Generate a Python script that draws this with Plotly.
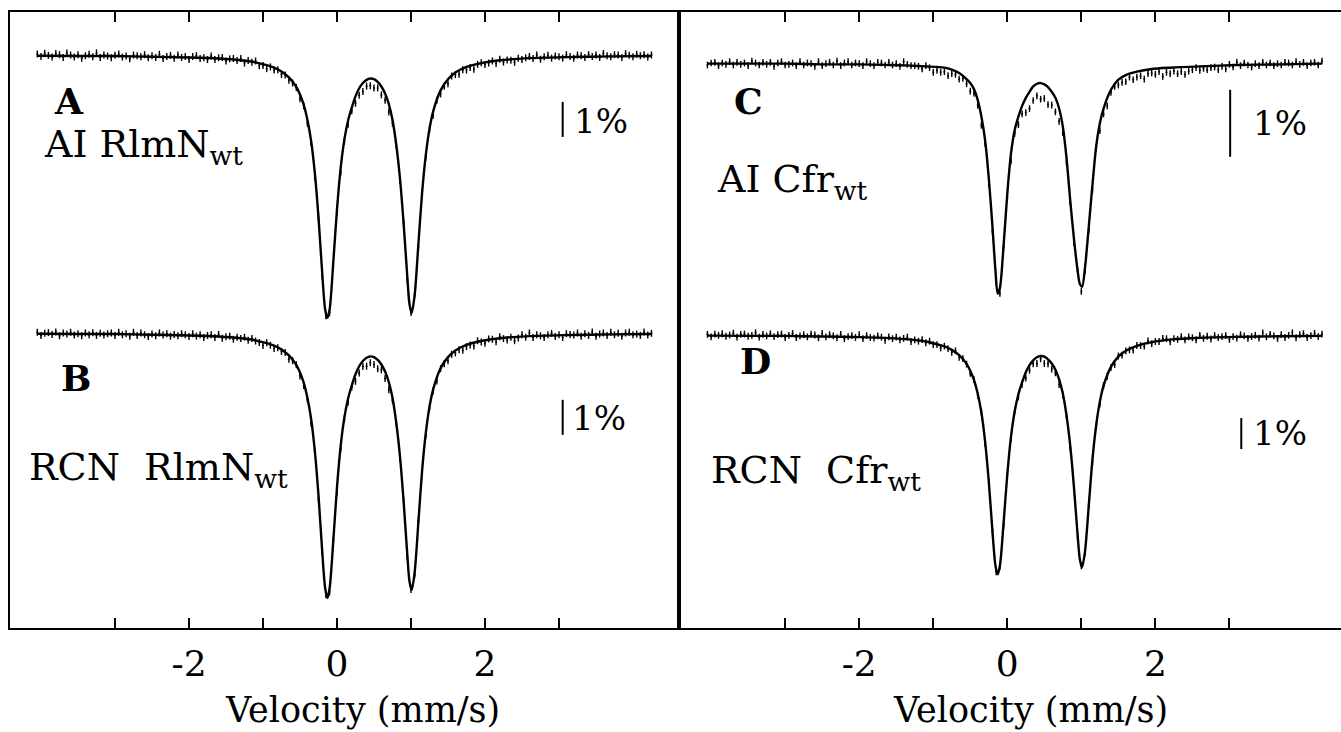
import plotly.graph_objects as go

# ---------------- data ----------------
velocity = [
    -4.05, -4.00, -3.95, -3.90, -3.85, -3.80, -3.75, -3.70, -3.65, -3.60,
    -3.55, -3.50, -3.45, -3.40, -3.35, -3.30, -3.25, -3.20, -3.15, -3.10,
    -3.05, -3.00, -2.95, -2.90, -2.85, -2.80, -2.75, -2.70, -2.65, -2.60,
    -2.55, -2.50, -2.45, -2.40, -2.35, -2.30, -2.25, -2.20, -2.15, -2.10,
    -2.05, -2.00, -1.95, -1.90, -1.85, -1.80, -1.75, -1.70, -1.65, -1.60,
    -1.55, -1.50, -1.45, -1.40, -1.35, -1.30, -1.25, -1.20, -1.15, -1.10,
    -1.05, -1.00, -0.95, -0.90, -0.85, -0.80, -0.75, -0.70, -0.65, -0.60,
    -0.55, -0.50, -0.45, -0.40, -0.35, -0.30, -0.25, -0.20, -0.15, -0.10,
    -0.05, 0.00, 0.05, 0.10, 0.15, 0.20, 0.25, 0.30, 0.35, 0.40,
    0.45, 0.50, 0.55, 0.60, 0.65, 0.70, 0.75, 0.80, 0.85, 0.90,
    0.95, 1.00, 1.05, 1.10, 1.15, 1.20, 1.25, 1.30, 1.35, 1.40,
    1.45, 1.50, 1.55, 1.60, 1.65, 1.70, 1.75, 1.80, 1.85, 1.90,
    1.95, 2.00, 2.05, 2.10, 2.15, 2.20, 2.25, 2.30, 2.35, 2.40,
    2.45, 2.50, 2.55, 2.60, 2.65, 2.70, 2.75, 2.80, 2.85, 2.90,
    2.95, 3.00, 3.05, 3.10, 3.15, 3.20, 3.25, 3.30, 3.35, 3.40,
    3.45, 3.50, 3.55, 3.60, 3.65, 3.70, 3.75, 3.80, 3.85, 3.90,
    3.95, 4.00, 4.05, 4.10, 4.15, 4.20, 4.25,
]

# relative transmission (%) of the measured spectra
data_A = [
    100.03, 99.96, 100.05, 99.99, 99.94, 100.04, 100.01, 99.93, 100.06, 100.00,
    99.94, 100.01, 99.91, 99.98, 100.02, 99.95, 100.06, 99.93, 100.00, 99.97,
    99.92, 99.99, 100.03, 99.94, 99.97, 99.89, 100.00, 99.98, 99.95, 100.01,
    99.92, 99.98, 99.93, 100.02, 99.90, 99.96, 99.99, 99.91, 100.00, 99.93,
    99.96, 99.87, 99.96, 99.98, 99.90, 99.92, 99.87, 99.97, 99.87, 99.92,
    99.93, 99.83, 99.89, 99.90, 99.84, 99.90, 99.77, 99.84, 99.79, 99.83,
    99.69, 99.70, 99.61, 99.66, 99.57, 99.58, 99.44, 99.43, 99.28, 99.20,
    99.07, 98.75, 98.55, 98.05, 97.49, 96.51, 95.34, 93.69, 92.55, 92.64,
    93.95, 95.51, 96.65, 97.54, 98.02, 98.41, 98.62, 98.85, 98.96, 99.11,
    99.12, 99.06, 99.06, 98.86, 98.71, 98.37, 98.05, 97.44, 96.42, 95.21,
    93.58, 92.64, 93.15, 94.50, 96.03, 97.08, 97.86, 98.28, 98.71, 98.89,
    99.11, 99.18, 99.40, 99.44, 99.45, 99.58, 99.57, 99.64, 99.59, 99.73,
    99.78, 99.73, 99.77, 99.83, 99.76, 99.88, 99.80, 99.86, 99.85, 99.79,
    99.91, 99.87, 99.92, 99.96, 99.90, 100.00, 99.88, 99.95, 99.99, 99.91,
    99.97, 99.95, 99.91, 100.01, 99.96, 99.91, 100.00, 99.98, 99.93, 100.01,
    99.96, 100.00, 99.93, 100.04, 99.98, 99.95, 100.01, 100.00, 99.93, 100.04,
    99.99, 99.95, 100.02, 99.98, 100.01, 99.94, 100.00,
]
data_B = [
    100.02, 99.93, 99.99, 100.01, 99.96, 100.03, 99.92, 100.00, 99.97, 100.02,
    99.94, 99.98, 99.92, 100.00, 99.95, 100.01, 99.93, 99.99, 99.94, 99.98,
    100.00, 99.93, 100.02, 99.95, 99.98, 99.91, 100.02, 99.93, 100.00, 99.95,
    99.90, 99.97, 99.92, 100.00, 99.94, 99.98, 99.91, 99.96, 99.92, 99.98,
    99.95, 99.90, 99.98, 99.91, 99.95, 99.87, 99.93, 99.95, 99.87, 99.96,
    99.85, 99.89, 99.91, 99.82, 99.88, 99.84, 99.88, 99.79, 99.84, 99.77,
    99.73, 99.64, 99.72, 99.65, 99.56, 99.58, 99.47, 99.44, 99.25, 99.21,
    99.09, 98.77, 98.50, 98.11, 97.43, 96.63, 95.26, 93.75, 92.52, 92.60,
    94.07, 95.46, 96.70, 97.54, 98.02, 98.46, 98.62, 98.86, 99.04, 99.05,
    99.15, 99.10, 98.98, 98.95, 98.70, 98.38, 98.08, 97.43, 96.43, 95.21,
    93.62, 92.67, 93.09, 94.63, 96.03, 97.08, 97.86, 98.34, 98.63, 98.98,
    99.12, 99.21, 99.39, 99.43, 99.52, 99.51, 99.61, 99.66, 99.63, 99.78,
    99.74, 99.71, 99.83, 99.82, 99.75, 99.89, 99.84, 99.80, 99.88, 99.78,
    99.86, 99.95, 99.88, 100.00, 99.87, 99.95, 99.92, 99.87, 99.95, 99.99,
    99.90, 99.95, 99.87, 99.98, 99.96, 99.94, 100.00, 99.91, 99.98, 99.93,
    100.03, 99.91, 99.97, 100.00, 99.93, 100.02, 99.95, 99.99, 99.91, 100.00,
    100.02, 99.95, 99.97, 99.93, 100.03, 99.94, 99.99,
]
data_C = [
    99.97, 100.00, 100.01, 99.96, 100.00, 99.98, 100.02, 99.97, 100.01, 99.98,
    100.00, 99.96, 100.03, 100.00, 99.97, 100.01, 99.98, 100.01, 99.95, 100.00,
    100.02, 99.97, 99.98, 100.00, 99.96, 100.02, 99.97, 100.00, 99.99, 99.95,
    100.02, 99.96, 99.99, 100.01, 99.97, 100.03, 99.96, 100.00, 100.02, 99.97,
    100.00, 99.99, 99.96, 100.02, 99.99, 99.96, 100.01, 100.00, 99.97, 100.01,
    99.97, 99.99, 99.95, 100.02, 99.98, 99.96, 99.96, 99.95, 99.91, 99.96,
    99.93, 99.86, 99.89, 99.86, 99.87, 99.81, 99.84, 99.83, 99.76, 99.77,
    99.69, 99.58, 99.55, 99.37, 99.07, 98.80, 98.19, 97.49, 96.73, 96.56,
    97.25, 97.98, 98.54, 98.95, 99.08, 99.24, 99.26, 99.32, 99.44, 99.51,
    99.46, 99.47, 99.38, 99.37, 99.27, 99.13, 98.96, 98.51, 97.92, 97.32,
    96.89, 96.59, 96.90, 97.51, 98.10, 98.73, 98.99, 99.24, 99.36, 99.56,
    99.65, 99.67, 99.71, 99.72, 99.79, 99.75, 99.79, 99.81, 99.76, 99.84,
    99.85, 99.83, 99.87, 99.80, 99.86, 99.84, 99.88, 99.84, 99.87, 99.83,
    99.88, 99.90, 99.93, 99.89, 99.92, 99.90, 99.93, 99.94, 99.90, 99.95,
    99.91, 99.98, 99.94, 100.01, 99.96, 100.00, 99.97, 99.94, 99.99, 99.96,
    100.01, 99.97, 100.00, 99.96, 99.99, 99.97, 100.01, 100.00, 99.97, 100.02,
    99.98, 100.01, 99.96, 100.00, 100.01, 99.97, 100.03,
]
data_D = [
    100.02, 99.94, 100.03, 99.99, 100.04, 99.96, 100.00, 100.06, 99.93, 100.02,
    100.03, 99.96, 99.99, 100.07, 99.93, 100.02, 99.97, 100.04, 99.95, 100.01,
    100.03, 99.92, 99.99, 100.05, 99.92, 99.97, 100.01, 99.94, 100.03, 100.00,
    99.91, 100.05, 99.94, 100.01, 99.97, 99.91, 100.02, 99.88, 99.95, 99.98,
    99.92, 100.01, 99.88, 99.98, 99.92, 99.90, 99.97, 99.93, 99.83, 99.94,
    99.88, 99.93, 99.84, 99.89, 99.93, 99.79, 99.84, 99.80, 99.85, 99.75,
    99.80, 99.69, 99.69, 99.58, 99.64, 99.56, 99.44, 99.49, 99.28, 99.24,
    99.06, 98.76, 98.56, 98.06, 97.53, 96.50, 95.25, 93.67, 92.36, 92.54,
    93.86, 95.49, 96.66, 97.55, 98.00, 98.41, 98.61, 98.86, 99.07, 99.08,
    99.23, 99.08, 99.07, 98.90, 98.78, 98.40, 98.07, 97.38, 96.36, 95.09,
    93.46, 92.55, 92.98, 94.50, 95.89, 97.06, 97.77, 98.37, 98.67, 98.95,
    99.05, 99.32, 99.35, 99.49, 99.52, 99.51, 99.66, 99.66, 99.64, 99.81,
    99.72, 99.79, 99.79, 99.89, 99.88, 99.78, 99.88, 99.86, 99.95, 99.84,
    99.94, 99.91, 99.84, 99.99, 99.89, 99.96, 99.87, 99.98, 99.92, 99.95,
    99.98, 99.86, 99.95, 99.90, 100.01, 99.97, 99.89, 99.95, 99.99, 99.90,
    100.07, 99.94, 100.02, 99.97, 99.89, 100.01, 99.92, 99.99, 100.07, 99.91,
    100.01, 100.04, 99.92, 99.98, 100.05, 99.95, 100.03,
]

# fitted curves (relative transmission, %) at these velocities
fit_velocity = [
    -4.05, -3.5, -3.0, -2.5, -2.0, -1.6, -1.3, -1.1, -0.95, -0.85,
    -0.75, -0.65, -0.55, -0.5, -0.45, -0.4, -0.35, -0.3, -0.25, -0.2,
    -0.16, -0.13, -0.1, -0.05, 0.0, 0.05, 0.1, 0.15, 0.2, 0.25,
    0.3, 0.35, 0.4, 0.45, 0.5, 0.55, 0.6, 0.65, 0.7, 0.75,
    0.8, 0.85, 0.9, 0.95, 0.98, 1.01, 1.05, 1.1, 1.15, 1.2,
    1.25, 1.3, 1.4, 1.5, 1.6, 1.75, 1.95, 2.2, 2.6, 3.1,
    3.7, 4.25,
]
fit_A = [
    99.98, 99.97, 99.97, 99.95, 99.93, 99.90, 99.85, 99.79, 99.71, 99.64,
    99.53, 99.36, 99.09, 98.87, 98.58, 98.15, 97.55, 96.64, 95.36, 93.78,
    92.73, 92.49, 92.72, 94.08, 95.59, 96.78, 97.59, 98.13, 98.50, 98.82,
    99.05, 99.20, 99.29, 99.33, 99.31, 99.23, 99.10, 98.90, 98.60, 98.15,
    97.45, 96.50, 95.20, 93.67, 92.88, 92.63, 93.15, 94.60, 96.06, 97.14,
    97.89, 98.39, 98.99, 99.31, 99.50, 99.66, 99.77, 99.85, 99.91, 99.94,
    99.96, 99.97,
]
fit_B = [
    99.98, 99.97, 99.97, 99.95, 99.93, 99.90, 99.85, 99.79, 99.71, 99.64,
    99.53, 99.36, 99.09, 98.87, 98.58, 98.15, 97.55, 96.64, 95.36, 93.77,
    92.71, 92.43, 92.70, 94.06, 95.59, 96.78, 97.59, 98.13, 98.50, 98.82,
    99.05, 99.20, 99.29, 99.33, 99.31, 99.23, 99.10, 98.90, 98.60, 98.15,
    97.45, 96.50, 95.20, 93.67, 92.90, 92.66, 93.17, 94.60, 96.06, 97.14,
    97.89, 98.39, 98.99, 99.31, 99.50, 99.66, 99.77, 99.85, 99.91, 99.94,
    99.96, 99.97,
]
fit_C = [
    99.99, 99.99, 99.99, 99.98, 99.98, 99.97, 99.96, 99.95, 99.94, 99.93,
    99.90, 99.85, 99.76, 99.70, 99.61, 99.45, 99.20, 98.85, 98.28, 97.55,
    96.90, 96.56, 96.64, 97.28, 98.05, 98.65, 99.00, 99.20, 99.36, 99.48,
    99.57, 99.65, 99.69, 99.70, 99.68, 99.64, 99.57, 99.48, 99.32, 99.05,
    98.58, 97.95, 97.38, 96.90, 96.70, 96.66, 96.95, 97.55, 98.18, 98.75,
    99.10, 99.32, 99.60, 99.75, 99.82, 99.87, 99.91, 99.93, 99.95, 99.97,
    99.98, 99.99,
]
fit_D = [
    99.98, 99.97, 99.97, 99.95, 99.93, 99.90, 99.85, 99.79, 99.70, 99.63,
    99.52, 99.35, 99.07, 98.85, 98.55, 98.11, 97.50, 96.57, 95.27, 93.65,
    92.56, 92.28, 92.55, 93.94, 95.50, 96.72, 97.54, 98.09, 98.47, 98.80,
    99.03, 99.18, 99.28, 99.32, 99.30, 99.21, 99.08, 98.88, 98.57, 98.11,
    97.40, 96.43, 95.10, 93.54, 92.76, 92.51, 93.03, 94.49, 95.98, 97.08,
    97.85, 98.36, 98.97, 99.30, 99.49, 99.65, 99.77, 99.85, 99.91, 99.94,
    99.96, 99.97,
]

# error bar half-heights (%) and 1 % scale-bar positions
err_A, err_B, err_C, err_D = 0.10, 0.10, 0.05, 0.11
bar_A = ([3.05, 3.05], [97.66, 98.66])
bar_B = ([3.05, 3.05], [97.09, 98.09])
bar_C = ([3.01, 3.01], [98.60, 99.60])
bar_D = ([3.16, 3.16], [96.32, 97.32])

tick_vals = [-3, -2, -1, 0, 1, 2, 3]
tick_text = ["", "-2", "", "0", "", "2", ""]

# ---------------- layout geometry ----------------
W, H = 1341, 732
ML, MT, MB = 10, 12, 104
PW, PH = W - ML, H - MT - MB


def px_x(px):
    return (px - ML) / PW


def px_y(py):
    return (MT + PH - py) / PH


FONT = "DejaVu Serif"
fig = go.Figure()

spectra = [
    (data_A, fit_A, err_A, bar_A, "x", "y"),
    (data_B, fit_B, err_B, bar_B, "x", "y2"),
    (data_C, fit_C, err_C, bar_C, "x2", "y3"),
    (data_D, fit_D, err_D, bar_D, "x2", "y4"),
]
for dat, fit, err, bar, xa, ya in spectra:
    fig.add_trace(go.Scatter(
        x=velocity, y=dat, mode="markers", xaxis=xa, yaxis=ya,
        marker=dict(size=2, color="black"),
        error_y=dict(type="constant", value=err, width=0, thickness=1.4, color="black"),
        showlegend=False, hoverinfo="skip"))
    fig.add_trace(go.Scatter(
        x=fit_velocity, y=fit, mode="lines", xaxis=xa, yaxis=ya,
        line=dict(color="black", width=2.4, shape="spline", smoothing=0.8),
        showlegend=False, hoverinfo="skip"))
    fig.add_trace(go.Scatter(
        x=bar[0], y=bar[1], mode="lines", xaxis=xa, yaxis=ya,
        line=dict(color="black", width=2),
        showlegend=False, hoverinfo="skip"))

xcommon = dict(
    tickvals=tick_vals, ticktext=tick_text, ticks="inside", ticklen=10,
    tickwidth=2, tickcolor="black", showline=True, linewidth=2,
    linecolor="black", mirror="ticks", showgrid=False, zeroline=False,
    tickfont=dict(family=FONT, size=36, color="black"), ticklabelstandoff=3,
)
split = px_x(679)
ycommon = dict(showgrid=False, zeroline=False, ticks="", showticklabels=False)

fig.update_layout(
    width=W, height=H,
    margin=dict(l=ML, r=0, t=MT, b=MB, pad=0),
    paper_bgcolor="white", plot_bgcolor="white",
    font=dict(family=FONT, color="black"),
    xaxis=dict(domain=[0, split], range=[-4.419, 4.622], anchor="y", **xcommon),
    xaxis2=dict(domain=[split, 1], range=[-4.434, 4.507], anchor="y3", **xcommon),
    yaxis=dict(domain=[0, 1], range=[83.629, 101.229], anchor="x",
               showline=True, linewidth=2, linecolor="black", mirror=True, **ycommon),
    yaxis2=dict(range=[91.571, 109.171], overlaying="y", anchor="x", visible=False),
    yaxis3=dict(domain=[0, 1], range=[91.567, 100.761], anchor="x2",
                showline=True, linewidth=2, linecolor="black", mirror=False, **ycommon),
    yaxis4=dict(range=[90.548, 110.419], overlaying="y3", anchor="x2", visible=False),
)

labels = [
    ("<b>A</b>", 53, 101, 36),
    ("AI RlmN<sub>wt</sub>", 43, 147, 38),
    ("<b>B</b>", 60, 378, 36),
    ("RCN\u00a0 RlmN<sub>wt</sub>", 28, 470, 38),
    ("<b>C</b>", 733, 101, 36),
    ("AI Cfr<sub>wt</sub>", 716, 181, 38),
    ("<b>D</b>", 739, 361, 36),
    ("RCN\u00a0 Cfr<sub>wt</sub>", 710, 472, 38),
    ("1%", 573, 121, 34),
    ("1%", 571, 418, 34),
    ("1%", 1252, 123, 34),
    ("1%", 1252, 433, 34),
]
for text, lx, ly, size in labels:
    fig.add_annotation(
        text=text, x=px_x(lx), y=px_y(ly), xref="paper", yref="paper",
        xanchor="left", yanchor="middle", showarrow=False, borderpad=0,
        font=dict(family=FONT, size=size, color="black"))

for cx in (362, 1030):
    fig.add_annotation(
        text="Velocity (mm/s)", x=px_x(cx), y=px_y(710), xref="paper", yref="paper",
        xanchor="center", yanchor="middle", showarrow=False, borderpad=0,
        font=dict(family=FONT, size=35, color="black"))

fig.write_html(
    "out.html",
    config={"displayModeBar": False},
    post_script="document.body.style.margin='0';document.body.style.overflow='hidden';",
)
